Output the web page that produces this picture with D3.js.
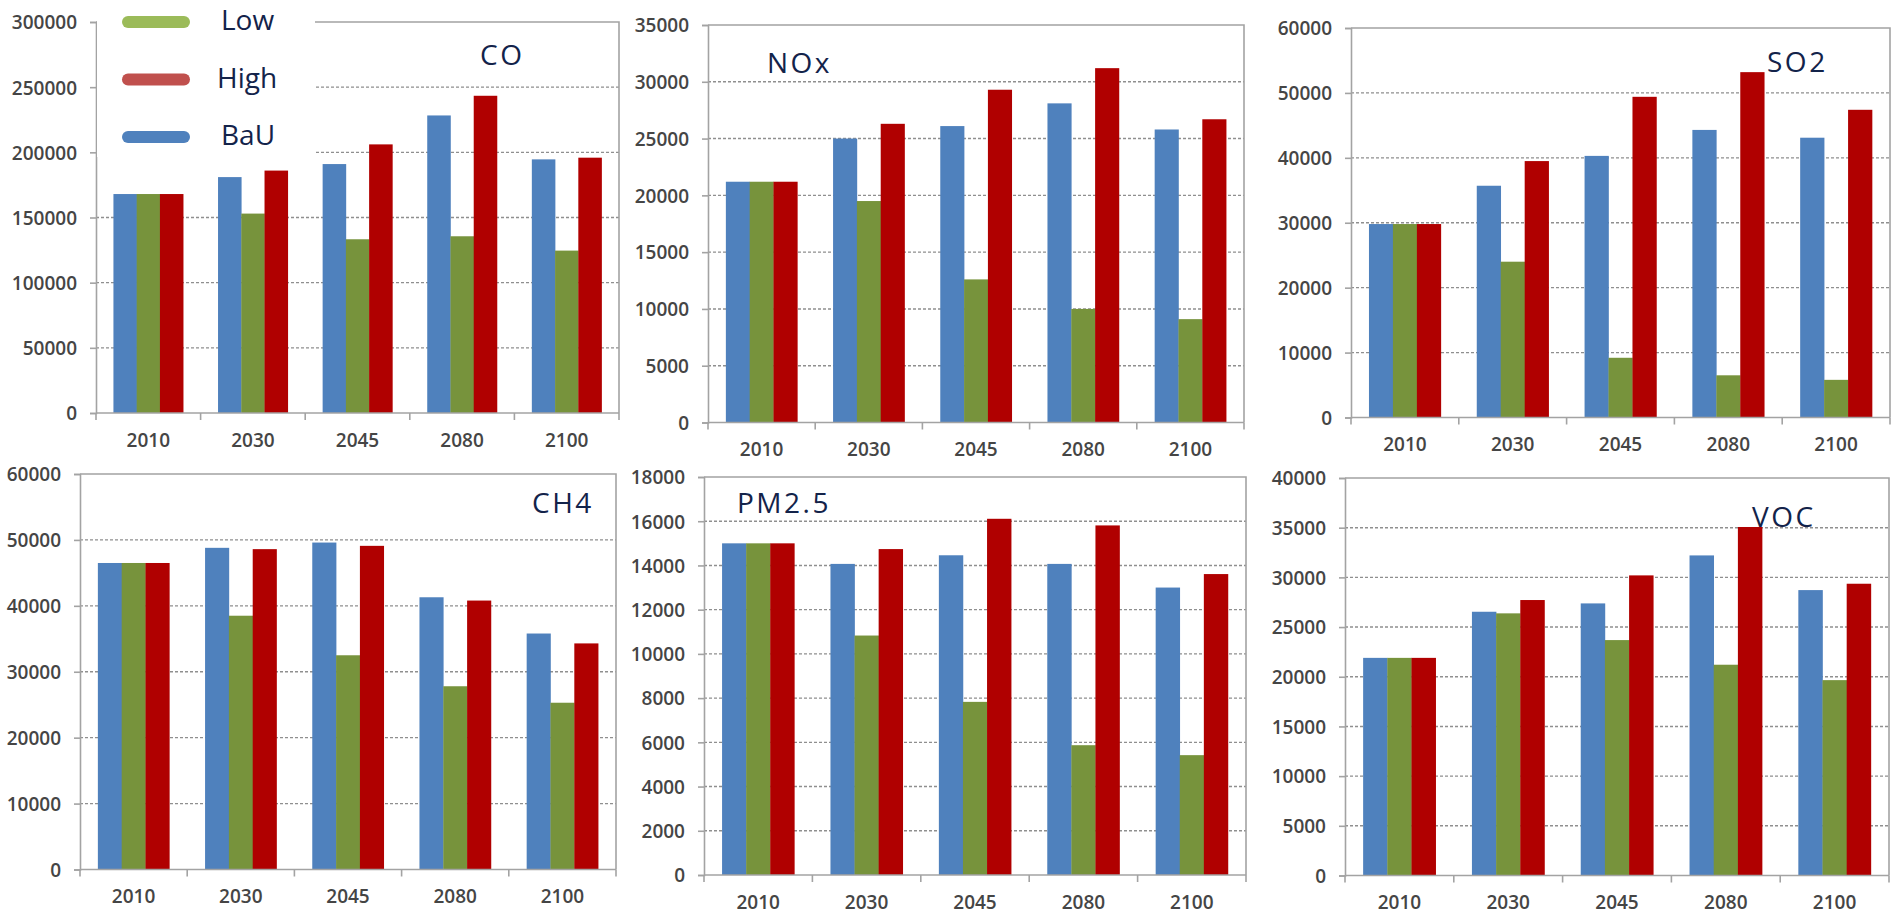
<!DOCTYPE html>
<html>
<head>
<meta charset="utf-8">
<script src="https://cdn.jsdelivr.net/npm/d3@7"></script>
<style>
  html, body { margin: 0; padding: 0; background: #fff; }
  svg { display: block; }
  .tick-label { font-family: "Open Sans", "Liberation Sans", sans-serif; font-size: 19px; font-weight: 600; fill: #454545; }
  .title { font-family: "Open Sans", "Noto Sans", sans-serif; font-size: 28px; fill: #13234a; letter-spacing: 2.5px; }
  .legend-text { font-family: "Open Sans", "Noto Sans", sans-serif; font-size: 28px; fill: #13234a; }
</style>
</head>
<body>
<svg id="chart" width="1892" height="916"></svg>
<script>
// Emission scenarios by year
const years = ["2010", "2030", "2045", "2080", "2100"];
const scenarios = ["BaU", "Low", "High"];

const coBaU  = [168000, 181000, 191000, 228300, 194600];
const coLow  = [168000, 153000, 133300, 135600, 124600];
const coHigh = [168000, 186000, 206100, 243400, 195900];
const coTicks = [0, 50000, 100000, 150000, 200000, 250000, 300000];

const noxBaU  = [21200, 25000, 26100, 28100, 25800];
const noxLow  = [21200, 19500, 12600, 10000, 9100];
const noxHigh = [21200, 26300, 29300, 31200, 26700];
const noxTicks = [0, 5000, 10000, 15000, 20000, 25000, 30000, 35000];

const so2BaU  = [29800, 35700, 40300, 44300, 43100];
const so2Low  = [29800, 24000, 9200, 6500, 5800];
const so2High = [29800, 39500, 49400, 53200, 47400];
const so2Ticks = [0, 10000, 20000, 30000, 40000, 50000, 60000];

const ch4BaU  = [46500, 48800, 49600, 41300, 35800];
const ch4Low  = [46500, 38500, 32500, 27800, 25300];
const ch4High = [46500, 48600, 49100, 40800, 34300];
const ch4Ticks = [0, 10000, 20000, 30000, 40000, 50000, 60000];

const pmBaU  = [15000, 14070, 14460, 14070, 13000];
const pmLow  = [15000, 10830, 7830, 5870, 5420];
const pmHigh = [15000, 14740, 16110, 15810, 13610];
const pmTicks = [0, 2000, 4000, 6000, 8000, 10000, 12000, 14000, 16000, 18000];

const vocBaU  = [21900, 26540, 27380, 32210, 28720];
const vocLow  = [21900, 26380, 23690, 21210, 19660];
const vocHigh = [21900, 27720, 30200, 35070, 29360];
const vocTicks = [0, 5000, 10000, 15000, 20000, 25000, 30000, 35000, 40000];

// Bar fills and legend swatch colours
const barColors = { BaU: "#4f81bd", Low: "#77933c", High: "#b00000" };
const legendColors = { BaU: "#4f81bd", Low: "#9bbb59", High: "#c0504d" };

const panels = [
  { name: "CO",    values: [coBaU, coLow, coHigh],    ticks: coTicks,
    box: { l: 96,   r: 619,  t: 22,  b: 413 },   titlePos: [480, 65] },
  { name: "NOx",   values: [noxBaU, noxLow, noxHigh], ticks: noxTicks,
    box: { l: 708,  r: 1244, t: 25,  b: 422.5 }, titlePos: [767, 73] },
  { name: "SO2",   values: [so2BaU, so2Low, so2High], ticks: so2Ticks,
    box: { l: 1351, r: 1890, t: 28,  b: 417.5 }, titlePos: [1767, 72] },
  { name: "CH4",   values: [ch4BaU, ch4Low, ch4High], ticks: ch4Ticks,
    box: { l: 80,   r: 616,  t: 474, b: 869.5 }, titlePos: [532, 513] },
  { name: "PM2.5", values: [pmBaU, pmLow, pmHigh],    ticks: pmTicks,
    box: { l: 704,  r: 1246, t: 477, b: 875 },   titlePos: [737, 513] },
  { name: "VOC",   values: [vocBaU, vocLow, vocHigh], ticks: vocTicks,
    box: { l: 1345, r: 1889, t: 478, b: 875.5 }, titlePos: [1752, 527] }
];

const svg = d3.select("#chart");
const axisGrey = "#a3a3a3";

panels.forEach((p, idx) => {
  const { l, r, t, b } = p.box;
  const g = svg.append("g");

  const x = d3.scaleBand().domain(years).range([l, r])
    .paddingInner(1 / 3).paddingOuter(1 / 6);
  const xs = d3.scaleBand().domain(scenarios).range([0, x.bandwidth()]);
  const y = d3.scaleLinear()
    .domain([0, p.ticks[p.ticks.length - 1]])
    .range([b, t]);

  // dashed gridlines
  g.selectAll(".grid").data(p.ticks.slice(1, -1)).join("line")
    .attr("x1", l).attr("x2", r)
    .attr("y1", d => y(d)).attr("y2", d => y(d))
    .attr("stroke", "#8f8f8f").attr("stroke-width", 1.4)
    .attr("stroke-dasharray", "3,2");

  // bars
  const rows = years.map((yr, i) => ({ yr, vals: scenarios.map((s, k) => ({ s, v: p.values[k][i] })) }));
  g.selectAll(".grp").data(rows).join("g")
    .attr("transform", d => `translate(${x(d.yr)},0)`)
    .selectAll("rect").data(d => d.vals).join("rect")
    .attr("x", d => xs(d.s))
    .attr("width", xs.bandwidth() + 0.3)
    .attr("y", d => y(d.v))
    .attr("height", d => y(0) - y(d.v))
    .attr("fill", d => barColors[d.s]);

  // plot frame: top and right borders
  g.append("path")
    .attr("d", `M${l},${y(p.ticks[p.ticks.length - 1])}H${r}V${b}`)
    .attr("fill", "none").attr("stroke", axisGrey).attr("stroke-width", 1.6);

  // y axis
  const yAxis = d3.axisLeft(y).tickValues(p.ticks).tickSize(6).tickPadding(13)
    .tickFormat(d3.format("d"));
  const ya = g.append("g").attr("transform", `translate(${l},0)`).call(yAxis);
  ya.select(".domain").attr("stroke", axisGrey).attr("stroke-width", 1.6);
  ya.selectAll(".tick line").attr("stroke", axisGrey).attr("stroke-width", 1.6);
  ya.selectAll(".tick text").attr("class", "tick-label").attr("dy", "0.36em");

  // x axis with ticks on category boundaries
  const xa = g.append("g");
  xa.append("line").attr("x1", l).attr("x2", r).attr("y1", b).attr("y2", b)
    .attr("stroke", axisGrey).attr("stroke-width", 1.6);
  const bounds = years.map(yr => x(yr) - x.step() * x.paddingInner() / 2);
  bounds.push(r);
  xa.selectAll(".xt").data(bounds).join("line")
    .attr("x1", d => d).attr("x2", d => d)
    .attr("y1", b).attr("y2", b + 7)
    .attr("stroke", axisGrey).attr("stroke-width", 1.6);
  xa.selectAll(".xl").data(years).join("text")
    .attr("class", "tick-label")
    .attr("x", d => x(d) + x.bandwidth() / 2)
    .attr("y", b + 27)
    .attr("dy", "0.36em")
    .attr("text-anchor", "middle")
    .text(d => d);

  // panel legend box (first panel only)
  if (idx === 0) {
    const lg = g.append("g");
    lg.append("rect").attr("x", l + 1).attr("y", 0)
      .attr("width", 315 - l - 1).attr("height", 157).attr("fill", "#fff");
    const order = ["Low", "High", "BaU"];
    const legY = d3.scalePoint().domain(order).range([22, 137]);
    lg.selectAll(".sw").data(order).join("line")
      .attr("x1", 128).attr("x2", 184)
      .attr("y1", d => legY(d)).attr("y2", d => legY(d))
      .attr("stroke", d => legendColors[d]).attr("stroke-width", 12)
      .attr("stroke-linecap", "round");
    lg.selectAll(".lt").data(order).join("text")
      .attr("class", "legend-text")
      .attr("x", d => d === "High" ? 217 : 221)
      .attr("y", d => legY(d) + 8)
      .text(d => d);
  }

  // panel title
  g.append("text").attr("class", "title")
    .attr("x", p.titlePos[0]).attr("y", p.titlePos[1])
    .text(p.name);
});
</script>
</body>
</html>
